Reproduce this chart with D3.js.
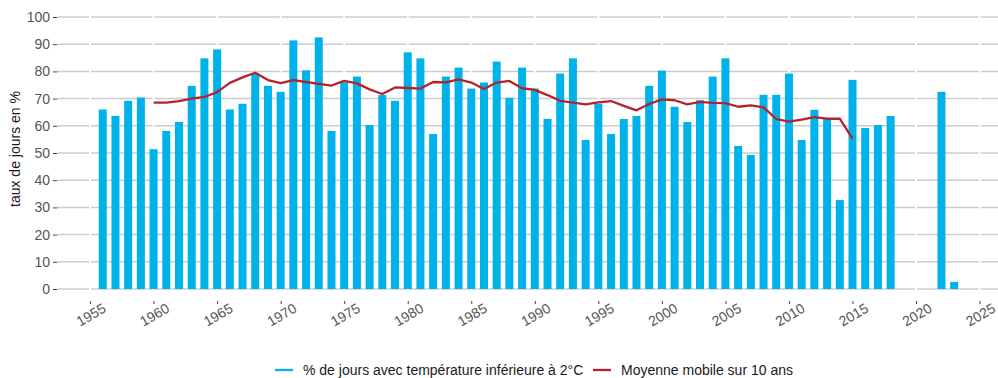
<!DOCTYPE html>
<html>
<head>
<meta charset="utf-8">
<script src="https://cdn.jsdelivr.net/npm/d3@7"></script>
<style>
  html, body { margin: 0; padding: 0; background: #fff; }
  svg { display: block; font-family: "Liberation Sans", Arial, sans-serif; }
</style>
</head>
<body>
<svg id="chart" width="998" height="378"></svg>
<script>
// Share of days with temperature below 2 °C, per year
const years = [1956, 1957, 1958, 1959, 1960, 1961, 1962, 1963, 1964, 1965,
  1966, 1967, 1968, 1969, 1970, 1971, 1972, 1973, 1974, 1975,
  1976, 1977, 1978, 1979, 1980, 1981, 1982, 1983, 1984, 1985,
  1986, 1987, 1988, 1989, 1990, 1991, 1992, 1993, 1994, 1995,
  1996, 1997, 1998, 1999, 2000, 2001, 2002, 2003, 2004, 2005,
  2006, 2007, 2008, 2009, 2010, 2011, 2012, 2013, 2014, 2015,
  2016, 2017, 2018, 2022, 2023];
const pctDays = [66.0, 63.6, 69.2, 70.4, 51.4, 58.1, 61.4, 74.7, 84.8, 88.1,
  66.0, 68.1, 79.3, 74.7, 72.5, 91.4, 80.4, 92.5, 58.1, 76.0,
  78.1, 60.3, 71.3, 69.2, 87.0, 84.8, 57.0, 78.1, 81.4, 73.7,
  75.9, 83.6, 70.3, 81.4, 73.7, 62.5, 79.2, 84.8, 54.8, 68.1,
  57.0, 62.5, 63.6, 74.7, 80.3, 67.0, 61.4, 69.4, 78.1, 84.8,
  52.6, 49.3, 71.4, 71.4, 79.2, 54.8, 65.9, 62.5, 32.7, 76.9,
  59.2, 60.3, 63.6, 72.5, 2.6];

// 10-year moving average
const maYears = [1960, 1961, 1962, 1963, 1964, 1965, 1966, 1967, 1968, 1969,
  1970, 1971, 1972, 1973, 1974, 1975, 1976, 1977, 1978, 1979,
  1980, 1981, 1982, 1983, 1984, 1985, 1986, 1987, 1988, 1989,
  1990, 1991, 1992, 1993, 1994, 1995, 1996, 1997, 1998, 1999,
  2000, 2001, 2002, 2003, 2004, 2005, 2006, 2007, 2008, 2009,
  2010, 2011, 2012, 2013, 2014, 2015];
const maValues = [68.5, 68.5, 69.1, 70.0, 70.6, 72.4, 75.8, 77.8, 79.5, 76.8,
  75.7, 76.8, 76.1, 75.4, 74.8, 76.5, 75.6, 73.4, 71.7, 74.1,
  73.9, 73.7, 76.1, 76.0, 77.1, 75.9, 73.5, 75.9, 76.5, 73.8,
  73.2, 71.3, 69.2, 68.5, 67.9, 68.6, 69.1, 67.3, 65.7, 68.0,
  69.7, 69.4, 67.9, 68.8, 68.4, 68.3, 67.0, 67.5, 66.8, 62.5,
  61.5, 62.3, 63.2, 62.6, 62.6, 55.3];

const yTicks = [0, 10, 20, 30, 40, 50, 60, 70, 80, 90, 100];
const xTicks = [1955, 1960, 1965, 1970, 1975, 1980, 1985, 1990, 1995, 2000, 2005, 2010, 2015, 2020, 2025];

const barColor = "#00b2ea";
const lineColor = "#b5232a";
const gridColor = "#cccccc";
const textColor = "#555555";
const fontSize = "14px";

const svg = d3.select("#chart");
const panel = { left: 57, right: 998, top: 4, bottom: 301 };

const x = d3.scaleLinear().domain([1952.4, 2026.45]).range([panel.left, panel.right]);
const y = d3.scaleLinear().domain([0, 100]).range([289, 17]);

// horizontal grid
svg.append("g")
  .selectAll("line")
  .data(yTicks)
  .join("line")
  .attr("x1", panel.left).attr("x2", panel.right)
  .attr("y1", d => y(d)).attr("y2", d => y(d))
  .attr("stroke", gridColor).attr("stroke-width", 1.5);

// white vertical separators at the year ticks
svg.append("g")
  .selectAll("line")
  .data(xTicks)
  .join("line")
  .attr("x1", d => x(d)).attr("x2", d => x(d))
  .attr("y1", panel.top).attr("y2", panel.bottom)
  .attr("stroke", "#ffffff").attr("stroke-width", 2);

// bars
const barW = 8;
svg.append("g")
  .selectAll("rect")
  .data(years.map((yr, i) => ({ yr, v: pctDays[i] })))
  .join("rect")
  .attr("x", d => x(d.yr) - barW / 2)
  .attr("width", barW)
  .attr("y", d => y(d.v))
  .attr("height", d => y(0) - y(d.v))
  .attr("fill", barColor);

// moving average line
const line = d3.line().x(d => x(d.yr)).y(d => y(d.v));
svg.append("path")
  .datum(maYears.map((yr, i) => ({ yr, v: maValues[i] })))
  .attr("d", line)
  .attr("fill", "none")
  .attr("stroke", lineColor)
  .attr("stroke-width", 2.3)
  .attr("stroke-linejoin", "round");

// y axis
const yAxis = svg.append("g")
  .attr("transform", `translate(${panel.left},0)`)
  .call(d3.axisLeft(y).tickValues(yTicks).tickSize(4).tickPadding(3));
yAxis.select(".domain").remove();
yAxis.selectAll(".tick line").attr("stroke", "#444").attr("stroke-width", 1);
yAxis.selectAll(".tick text")
  .attr("fill", textColor)
  .style("font-size", fontSize);

// x axis
const xAxis = svg.append("g")
  .attr("transform", `translate(0,${panel.bottom})`)
  .call(d3.axisBottom(x).tickValues(xTicks).tickFormat(d3.format("d")).tickSize(3).tickPadding(0));
xAxis.select(".domain").remove();
xAxis.selectAll(".tick line").attr("stroke", "#444").attr("stroke-width", 1);
xAxis.selectAll(".tick text")
  .attr("fill", textColor)
  .style("font-size", fontSize)
  .attr("text-anchor", "middle")
  .attr("dy", null)
  .attr("y", 0)
  .attr("transform", "translate(3,18) rotate(-30)");

// y axis title
svg.append("text")
  .attr("transform", "translate(20,149) rotate(-90)")
  .attr("text-anchor", "middle")
  .attr("fill", "#1a1a1a")
  .style("font-size", fontSize)
  .text("taux de jours en %");

// legend
const legend = svg.append("g").attr("transform", "translate(0,370)");
const items = [
  { label: "% de jours avec température inférieure à 2°C", color: barColor, x: 275 },
  { label: "Moyenne mobile sur 10 ans", color: lineColor, x: 593 }
];
items.forEach(it => {
  legend.append("line")
    .attr("x1", it.x).attr("x2", it.x + 18)
    .attr("y1", 0).attr("y2", 0)
    .attr("stroke", it.color).attr("stroke-width", 2.3);
  legend.append("text")
    .attr("x", it.x + 28).attr("y", 0)
    .attr("dy", "0.35em")
    .attr("fill", "#1a1a1a")
    .style("font-size", fontSize)
    .text(it.label);
});
</script>
</body>
</html>
